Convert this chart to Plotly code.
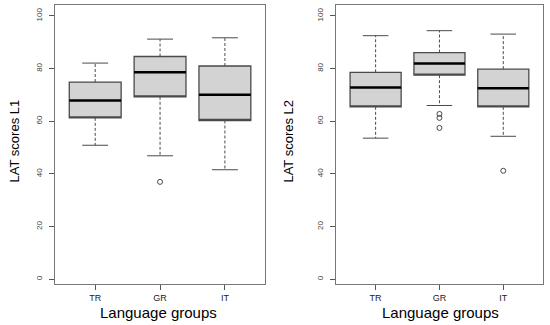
import plotly.graph_objects as go

groups = ["TR", "GR", "IT"]

# Panel 1: LAT scores L1
l1_low = [50.9, 46.9, 41.6]
l1_q1 = [61.3, 69.3, 60.3]
l1_med = [67.9, 78.6, 70.1]
l1_q3 = [74.9, 84.6, 81.0]
l1_high = [82.1, 91.2, 91.7]
l1_out_group = ["GR"]
l1_out_vals = [37.0]

# Panel 2: LAT scores L2
l2_low = [53.6, 66.0, 54.3]
l2_q1 = [65.5, 77.5, 65.5]
l2_med = [72.8, 81.9, 72.5]
l2_q3 = [78.6, 86.1, 79.8]
l2_high = [92.5, 94.4, 93.1]
l2_out_group = ["GR", "GR", "GR", "IT"]
l2_out_vals = [62.8, 61.3, 57.5, 41.2]

yticks = [0, 20, 40, 60, 80, 100]

BOXW = 0.8
CAPW = 0.4
LINE = "#4a4a4a"
FONT = "Liberation Sans, Arial, sans-serif"

fig = go.Figure()


def add_panel(xa, ya, low, q1, med, q3, high, og, ov):
    pos = [i + 1 for i in range(len(groups))]
    # whiskers (dashed)
    wx, wy = [], []
    for p, lo, a, b, hi in zip(pos, low, q1, q3, high):
        wx += [p, p, None, p, p, None]
        wy += [b, hi, None, a, lo, None]
    fig.add_trace(go.Scatter(x=wx, y=wy, mode="lines", xaxis=xa, yaxis=ya,
                             line=dict(color=LINE, width=1, dash="3px,2px"),
                             hoverinfo="skip", showlegend=False))
    # caps
    cx, cy = [], []
    for p, lo, hi in zip(pos, low, high):
        cx += [p - CAPW / 2, p + CAPW / 2, None, p - CAPW / 2, p + CAPW / 2, None]
        cy += [hi, hi, None, lo, lo, None]
    fig.add_trace(go.Scatter(x=cx, y=cy, mode="lines", xaxis=xa, yaxis=ya,
                             line=dict(color=LINE, width=1),
                             hoverinfo="skip", showlegend=False))
    # boxes
    fig.add_trace(go.Box(x=pos, q1=q1, median=q1, q3=q3, lowerfence=q1,
                         upperfence=q3, width=BOXW, xaxis=xa, yaxis=ya,
                         fillcolor="#d3d3d3", line=dict(color=LINE, width=1.3),
                         boxpoints=False, showlegend=False, hoverinfo="skip"))
    # medians
    mx, my = [], []
    for p, m in zip(pos, med):
        mx += [p - BOXW / 2, p + BOXW / 2, None]
        my += [m, m, None]
    fig.add_trace(go.Scatter(x=mx, y=my, mode="lines", xaxis=xa, yaxis=ya,
                             line=dict(color="black", width=2.5),
                             hoverinfo="skip", showlegend=False))
    # outliers
    fig.add_trace(go.Scatter(x=[groups.index(g) + 1 for g in og], y=ov,
                             mode="markers", xaxis=xa, yaxis=ya,
                             marker=dict(symbol="circle-open", size=5,
                                         color=LINE, line=dict(width=1)),
                             hoverinfo="skip", showlegend=False))


add_panel("x", "y", l1_low, l1_q1, l1_med, l1_q3, l1_high, l1_out_group, l1_out_vals)
add_panel("x2", "y2", l2_low, l2_q1, l2_med, l2_q3, l2_high, l2_out_group, l2_out_vals)

xaxis_common = dict(range=[0.38, 3.62], tickvals=[1, 2, 3], ticktext=groups,
                    showline=True, linecolor="#777", linewidth=1, mirror=True,
                    ticks="outside", ticklen=5, tickcolor="#555",
                    showgrid=False, zeroline=False,
                    tickfont=dict(family=FONT, size=9, color="#222"))
yaxis_common = dict(range=[-1.8, 104.2], tickvals=yticks,
                    showline=True, linecolor="#777", linewidth=1, mirror=True,
                    ticks="outside", ticklen=5, tickcolor="#555", tickangle=-90,
                    ticklabelstandoff=4,
                    showgrid=False, zeroline=False,
                    tickfont=dict(family=FONT, size=8, color="#444"))

fig.update_layout(
    width=550, height=325,
    margin=dict(l=0, r=0, t=0, b=0),
    paper_bgcolor="white", plot_bgcolor="white",
    xaxis=dict(domain=[0.1, 0.482], anchor="y", **xaxis_common),
    yaxis=dict(domain=[0.126, 0.985], anchor="x", **yaxis_common),
    xaxis2=dict(domain=[0.611, 0.987], anchor="y2", **xaxis_common),
    yaxis2=dict(domain=[0.126, 0.985], anchor="x2", **yaxis_common),
    showlegend=False,
    annotations=[
        dict(text="LAT scores L1", xref="paper", yref="paper", x=0.0255, y=0.565,
             textangle=-90, showarrow=False, xanchor="center", yanchor="middle",
             font=dict(family=FONT, size=13, color="black")),
        dict(text="LAT scores L2", xref="paper", yref="paper", x=0.524, y=0.565,
             textangle=-90, showarrow=False, xanchor="center", yanchor="middle",
             font=dict(family=FONT, size=13, color="black")),
        dict(text="Language groups", xref="paper", yref="paper", x=0.288, y=0.037,
             showarrow=False, xanchor="center", yanchor="middle",
             font=dict(family=FONT, size=15, color="black")),
        dict(text="Language groups", xref="paper", yref="paper", x=0.8, y=0.037,
             showarrow=False, xanchor="center", yanchor="middle",
             font=dict(family=FONT, size=15, color="black")),
    ],
)

fig.write_html("out.html", config={"displayModeBar": False},
               post_script="document.body.style.margin='0';document.body.style.overflow='hidden';")
